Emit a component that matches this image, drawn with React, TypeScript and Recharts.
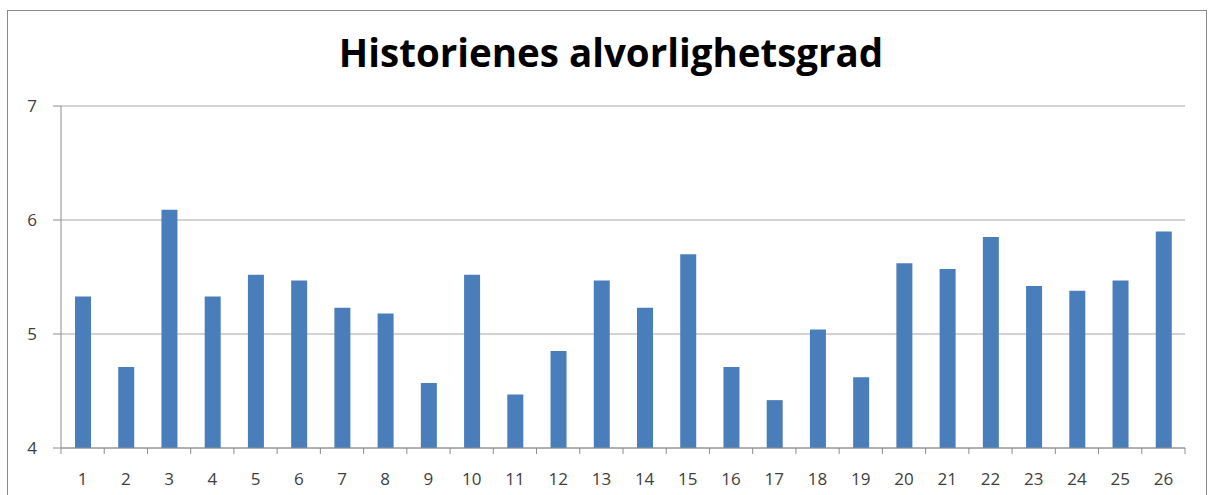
import React from "react";
import { BarChart, Bar, XAxis, YAxis, CartesianGrid } from "recharts";

const stories = [
  "1", "2", "3", "4", "5", "6", "7", "8", "9", "10", "11", "12", "13",
  "14", "15", "16", "17", "18", "19", "20", "21", "22", "23", "24", "25", "26",
];
const severity = [
  5.33, 4.71, 6.09, 5.33, 5.52, 5.47, 5.23, 5.18, 4.57, 5.52, 4.47, 4.85, 5.47,
  5.23, 5.7, 4.71, 4.42, 5.04, 4.62, 5.62, 5.57, 5.85, 5.42, 5.38, 5.47, 5.9,
];
const yTicks = [4, 5, 6, 7];

const data = stories.map((story, i) => ({ story, value: severity[i] }));

const FONT = "'Open Sans', 'DejaVu Sans', sans-serif";
const AXIS = "#8c8c8c";

// excel puts the x ticks between the categories, so draw them at the band edges
const StoryTick = (props: any) => {
  const { x, y, payload, index, visibleTicksCount } = props;
  const half = payload && payload.offset ? payload.offset : 21.6;
  const last = index === visibleTicksCount - 1;
  return (
    <g>
      <line x1={x - half} x2={x - half} y1={y} y2={y + 6} stroke={AXIS} />
      {last && <line x1={x + half} x2={x + half} y1={y} y2={y + 6} stroke={AXIS} />}
      <text x={x} y={y + 37} textAnchor="middle" fill="#404040" fontSize={17} fontFamily={FONT}>
        {payload.value}
      </text>
    </g>
  );
};

const App = () => {
  return (
    <div
      style={{
        position: "fixed",
        top: 0,
        left: 0,
        width: 1211,
        height: 495,
        overflow: "hidden",
        background: "#fff",
      }}
    >
      <div
        style={{
          position: "absolute",
          left: 7,
          top: 10,
          width: 1200,
          height: 520,
          border: "1.5px solid #8a8a8a",
          boxSizing: "border-box",
        }}
      />
      <div
        style={{
          position: "absolute",
          left: 0,
          top: 30,
          width: 1222,
          textAlign: "center",
          fontFamily: FONT,
          fontWeight: 700,
          fontSize: 38.5,
          lineHeight: "44px",
          color: "#000",
        }}
      >
        Historienes alvorlighetsgrad
      </div>
      <div style={{ position: "absolute", left: 0, top: 0 }}>
        <BarChart
          width={1211}
          height={495}
          data={data}
          margin={{ top: 106, right: 26, bottom: 17, left: 0 }}
        >
          <CartesianGrid vertical={false} stroke="#a6a6a6" />
          <XAxis
            dataKey="story"
            height={30}
            interval={0}
            tickSize={0}
            tickMargin={0}
            tickLine={false}
            axisLine={{ stroke: AXIS }}
            tick={<StoryTick />}
          />
          <YAxis
            width={61}
            domain={[4, 7]}
            ticks={yTicks}
            tickSize={8}
            tickMargin={16}
            axisLine={{ stroke: AXIS }}
            tickLine={{ stroke: AXIS }}
            tick={{ fill: "#404040", fontSize: 17, fontFamily: FONT }}
          />
          <Bar dataKey="value" fill="#4a7ebb" barSize={16} isAnimationActive={false} />
        </BarChart>
      </div>
    </div>
  );
};

export default App;
